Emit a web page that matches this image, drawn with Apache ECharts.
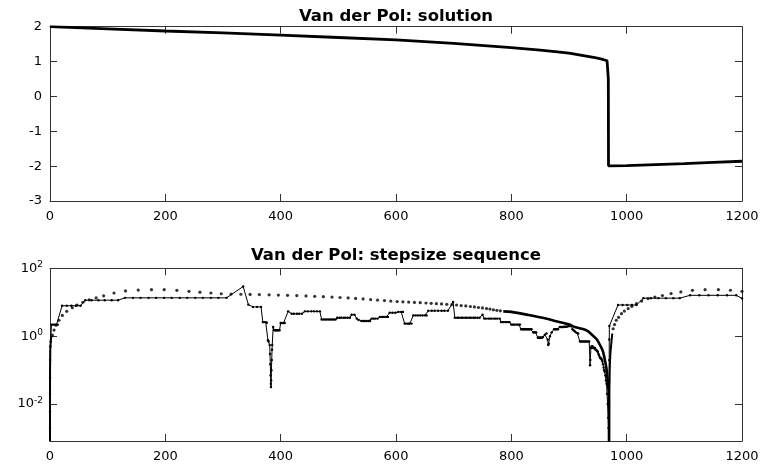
<!DOCTYPE html>
<html><head><meta charset="utf-8">
<script src="https://cdn.jsdelivr.net/npm/echarts@6/dist/echarts.min.js"></script>
<style>html,body{margin:0;padding:0;background:#fff}#c{width:763px;height:464px}</style>
</head><body><div id="c"></div>
<script>
// ---------- data ----------
const titleTop = 'Van der Pol: solution';
const titleBottom = 'Van der Pol: stepsize sequence';
const xTicks = [0, 200, 400, 600, 800, 1000, 1200];
const logTicks = [0.01, 1, 100];

// solution y(t)
const solT = [0, 100, 200, 300, 400, 500, 600, 700, 800, 850, 880, 900, 915, 930, 945, 955, 962, 966, 967.5, 968.2, 968.5, 969, 1000, 1050, 1100, 1150, 1200];
const solY = [2.0, 1.94, 1.876, 1.82, 1.76, 1.69, 1.62, 1.52, 1.40, 1.33, 1.28, 1.24, 1.20, 1.155, 1.11, 1.075, 1.045, 1.02, 0.97, 0.5, -1.99, -2.0, -1.985, -1.955, -1.925, -1.893, -1.86];

// stepsize sequence, method A (thin line with small markers): [t, h]
const stepA = [
 [0,0.0008],[0.002,0.002],[0.006,0.006],[0.02,0.02],[0.06,0.06],[0.2,0.2],[0.5,0.5],[1.2,0.7],
 [2.5,2.2],[4.7,2.2],[6.9,2.2],[9.1,2.2],[11.3,2.2],[13.5,2.2],
 [21,7.9],[29,7.9],[37,7.9],[45,7.9],[53,7.9],
 [61,11.5],[72,11.5],[84,11.5],[95,11.5],[107,11.5],[118,11.5],
 [130,13.5],[144,13.5],[157,13.5],[171,13.5],[184,13.5],[198,13.5],[211,13.5],[225,13.5],[238,13.5],[252,13.5],[265,13.5],[279,13.5],[292,13.5],[306,13.5],
 [335,29],
 [344,8.5],[352,7.3],[359,7.3],[366,7.3],
 [369,2.6],[371,2.6],[374,2.6],[376,2.5],
 [378,0.76],[379,0.7],[381,0.55],[381.5,0.3],[382,0.15],[382.5,0.07],[383,0.04],[383.2,0.032],[383.5,0.05],[384,0.1],[384.5,0.2],[385,0.4],[385.4,0.55],
 [387,1.86],[389,1.5],[390.5,1.5],[392,1.5],[393.5,1.5],[395,1.5],[396.5,1.5],[398,1.5],
 [400,2.45],[402,2.45],[405,2.45],[407,2.45],
 [413,5.4],[419,4.6],[423,4.6],[428,4.6],[432,4.6],[437,4.6],
 [442,5.4],[447,5.4],[453,5.4],[458,5.4],[463,5.4],[468,5.4],
 [471,3.1],[474,3.1],[477,3.1],[480,3.1],[483,3.1],[486,3.1],[489,3.1],[492,3.1],[495,3.1],
 [498,3.5],[502,3.5],[505,3.5],[509,3.5],[512,3.5],[516,3.5],[520,3.5],
 [523,4.3],[528,4.3],[532,3.3],[535,3.0],
 [540,2.8],[543,2.8],[546,2.8],[549,2.8],[552,2.8],[555,2.8],
 [558,3.3],[561,3.3],[564,3.3],[568,3.3],
 [572,3.7],[576,3.7],[579,3.7],[583,3.7],[586,3.7],
 [589,4.9],[594,4.9],[599,4.9],[604,5.2],[609,5.2],[612,5.2],
 [615,2.35],[617,2.35],[620,2.35],[622,2.35],[624,2.35],[627,2.35],
 [630,4.1],[634,4.1],[638,4.1],[642,4.1],[646,4.1],[650,4.1],[653,4.1],
 [656,5.6],[662,5.6],[667,5.6],[673,5.6],[679,5.6],[684,5.6],[690,5.6],
 [699,10.2],
 [702,3.5],[706,3.5],[709,3.5],[713,3.5],[716,3.5],[720,3.5],[723,3.5],[727,3.5],[730,3.5],[734,3.5],[737,3.5],[741,3.5],[745,3.5],
 [750,4.3],[753,3.3],[756,3.3],[760,3.3],[763,3.3],[766,3.3],[770,3.3],[773,3.3],[776,3.3],[780,3.3],
 [782,2.6],[785,2.6],[787,2.6],[790,2.6],[792,2.6],[795,2.6],[797,2.6],
 [800,2.2],[802,2.2],[804,2.2],[806,2.2],[809,2.2],[811,2.2],[813,2.2],[815,2.2],
 [817,1.6],[819,1.6],[820,1.6],[822,1.6],[823,1.6],[825,1.6],[827,1.6],[828,1.6],[830,1.6],[831,1.6],[833,1.6],[835,1.6],
 [838,1.3],[839,1.3],[840,1.3],[842,1.3],[843,1.3],
 [846,0.9],[847,0.9],[848,0.9],[849,0.9],[850,0.9],[851,0.9],[852,0.9],[853,0.9],[855,0.95],
 [858,1.1],[861,1.2],[863,0.8],[864,0.55],[865,0.6],[867,1.0],[870,1.3],
 [874,1.6],[876,1.6],[877,1.6],[879,1.6],[881,1.6],
 [884,1.86],[886,1.86],[888,1.86],[890,1.86],[892,1.9],[894,1.9],[896,1.9],[898,1.95],[900,2.0],[902,2.0],[904,2.0],
 [906,1.6],[908,1.5],[910,1.4],[912,1.3],[914,1.25],[916,1.2],
 [919,0.7],[921,0.7],[923,0.7],[925,0.7],[927,0.7],[929,0.7],[931,0.7],[933,0.7],[935,0.7],
 [936.5,0.14],[937,0.2],[938,0.45],[939,0.5],[940,0.5],[941,0.5],[942,0.45],[943,0.45],[944,0.45],[945,0.45],[946,0.4],[947,0.4],[948,0.38],[949,0.36],[950,0.35],
 [951,0.3],[952,0.28],[953,0.25],[954,0.23],[955,0.22],[956,0.22],[957,0.2],[958,0.18],[959,0.15],[960,0.12],[961,0.1],[962,0.09],[963,0.07],[964,0.05],[965,0.04],[966,0.02],[967,0.01],[968,0.004],[968.5,0.002],[969,0.0008],
 [969.3,0.002],[969.5,0.01],[969.6,0.05],[969.7,0.2],[969.8,0.8],[970,2.0],
 [985,8.3],[993,8.3],[1001,8.3],[1009,8.3],[1017,8.3],
 [1029,13.2],[1042,13.2],[1055,13.2],[1068,13.2],[1081,13.2],[1092,13.2],
 [1110,16],[1126,16],[1142,16],[1158,16],[1174,16],[1190,16],[1200,13]
];

// method B: separate dots where sparse
const stepBDots = [
 [4,1.07],[7,1.52],[10.4,2.1],[15.6,2.95],[21.4,4.1],[29,5.4],[38.7,6.9],[47,8.3],[57,10],[68,11.8],[80,13.5],[93,15.5],
 [111,18.7],[131,21.5],[153,22.9],[176,23.5],[198,23.5],[220,22.5],[241,21],[260,19.8],[279,18.7],[297,17.8],
 [314,17.4],[331,17.2],[347,17],[363,16.8],[380,16.5],[396,16.3],[412,16],[428,15.7],[444,15.4],[459,15],[474,14.6],
 [489,14.2],[503,13.8],[517,13.4],[530,13],[543,12.5],[556,12],[568,11.6],[580,11.2],[591,10.8],
 [602,10.5],[612,10.3],[622,10.1],[632,9.9],[642,9.7],[652,9.5],[661,9.3],[670,9.1],[679,8.9],[688,8.7],[697,8.5],
 [705,8.3],[713,8.0],[721,7.8],[729,7.5],[736,7.3],[743,7.0],[750,6.8],[757,6.5],[763,6.3],[769,6.0],[775,5.8],[781,5.6],
 [976.5,1.66],[979,2.2],[982,2.95],[986,3.6],[991,4.6],[996,5.5],[1002.6,6.5],[1009,7.6],[1017,9.1],[1026,10.8],
 [1037,12.8],[1049,14.2],[1062,15.8],[1077,18],[1094,20.1],[1114,22.4],[1136,23.4],[1159,23.4],[1180,22.6],[1200,21]
];
// method B where the dots merge into a solid trace
const stepBStart = [[0,0.0008],[0.01,0.01],[0.1,0.1],[0.5,0.4],[1.5,0.8],[2.5,1.0]];
const stepBDense = [[786,5.4],[800,5.2],[830,4.2],[860,3.3],[880,2.7],[901,2.2],[910,1.86],[930,1.5],[940,1.1],[948,0.81],[955,0.5],[959,0.35],[963,0.17],[965,0.11],[967,0.05],[969,0.018],[969.4,0.0008]];
const stepBRestart = [[969.5,0.0008],[970,0.02],[970.5,0.08],[971,0.17],[972,0.35],[973.6,0.68],[975,1.2]];

// ---------- chart ----------
const FONT = '"DejaVu Sans", "Liberation Sans", Arial, sans-serif';
const AX = '#333';
const chart = echarts.init(document.getElementById('c'), null, {renderer: 'canvas'});

function xAx(grid, pos, showLabel) {
  return {
    type: 'value', gridIndex: grid, position: pos, min: 0, max: 1200, interval: 200,
    axisLine: {show: true, onZero: false, lineStyle: {color: AX, width: 1}},
    axisTick: {show: true, inside: true, length: 7, lineStyle: {color: AX, width: 1}},
    axisLabel: {show: showLabel, margin: 9, fontSize: 13, color: '#000', fontFamily: FONT,
                formatter: function (v) { return String(v); }},
    splitLine: {show: false}
  };
}
function yLin(pos, showLabel) {
  return {
    type: 'value', gridIndex: 0, position: pos, min: -3, max: 2, interval: 1,
    axisLine: {show: true, onZero: false, lineStyle: {color: AX, width: 1}},
    axisTick: {show: true, inside: true, length: 7, lineStyle: {color: AX, width: 1}},
    axisLabel: {show: showLabel, margin: 8, fontSize: 13, color: '#000', fontFamily: FONT,
                formatter: function (v) { return String(v); }},
    splitLine: {show: false}
  };
}
function yLog(pos, showLabel) {
  return {
    type: 'log', logBase: 10, gridIndex: 1, position: pos, min: 0.00082, max: 100,
    axisLine: {show: true, onZero: false, lineStyle: {color: AX, width: 1}},
    axisTick: {show: true, inside: true, length: 7, customValues: logTicks, lineStyle: {color: AX, width: 1}},
    axisLabel: {
      show: showLabel, margin: 7, customValues: logTicks, color: '#000', fontFamily: FONT,
      formatter: function (v) { return '{b|10}{s|' + Math.round(Math.log10(v)) + '}'; },
      rich: {
        b: {fontSize: 13, fontFamily: FONT, color: '#000', lineHeight: 16},
        s: {fontSize: 9, fontFamily: FONT, color: '#000', lineHeight: 10, verticalAlign: 'top'}
      }
    },
    minorTick: {show: false},
    splitLine: {show: false}
  };
}

const option = {
  animation: false,
  backgroundColor: '#fff',
  title: [
    {text: titleTop, left: 396, top: 8, textAlign: 'center', padding: 0,
     textStyle: {fontFamily: FONT, fontWeight: 'bold', fontSize: 16.5, color: '#000'}},
    {text: titleBottom, left: 396, top: 247.5, textAlign: 'center', padding: 0,
     textStyle: {fontFamily: FONT, fontWeight: 'bold', fontSize: 16.5, color: '#000'}}
  ],
  grid: [
    {left: 50, top: 26.7, width: 692, height: 174.3, containLabel: false, outerBoundsMode: 'none'},
    {left: 50, top: 268.3, width: 692, height: 172.7, containLabel: false, outerBoundsMode: 'none'}
  ],
  xAxis: [xAx(0, 'bottom', true), xAx(0, 'top', false), xAx(1, 'bottom', true), xAx(1, 'top', false)],
  yAxis: [yLin('left', true), yLin('right', false), yLog('left', true), yLog('right', false)],
  series: [
    {type: 'line', xAxisIndex: 0, yAxisIndex: 0, silent: true, showSymbol: false,
     data: solT.map((t, i) => [t, solY[i]]),
     lineStyle: {color: '#000', width: 2.8}},
    {type: 'line', xAxisIndex: 2, yAxisIndex: 2, silent: true, showSymbol: true, symbol: 'circle', symbolSize: 2.4,
     data: stepA, itemStyle: {color: '#000'}, lineStyle: {color: '#000', width: 1}},
    {type: 'scatter', xAxisIndex: 2, yAxisIndex: 2, silent: true, symbol: 'circle', symbolSize: 3.2,
     data: stepBDots, itemStyle: {color: '#000'}},
    {type: 'line', xAxisIndex: 2, yAxisIndex: 2, silent: true, showSymbol: false,
     data: stepBStart, lineStyle: {color: '#000', width: 2}},
    {type: 'line', xAxisIndex: 2, yAxisIndex: 2, silent: true, showSymbol: false, smooth: 0.3,
     data: stepBDense, lineStyle: {color: '#000', width: 2.6}},
    {type: 'line', xAxisIndex: 2, yAxisIndex: 2, silent: true, showSymbol: false,
     data: stepBRestart, lineStyle: {color: '#000', width: 2}}
  ]
};
chart.setOption(option);
</script>
</body></html>
